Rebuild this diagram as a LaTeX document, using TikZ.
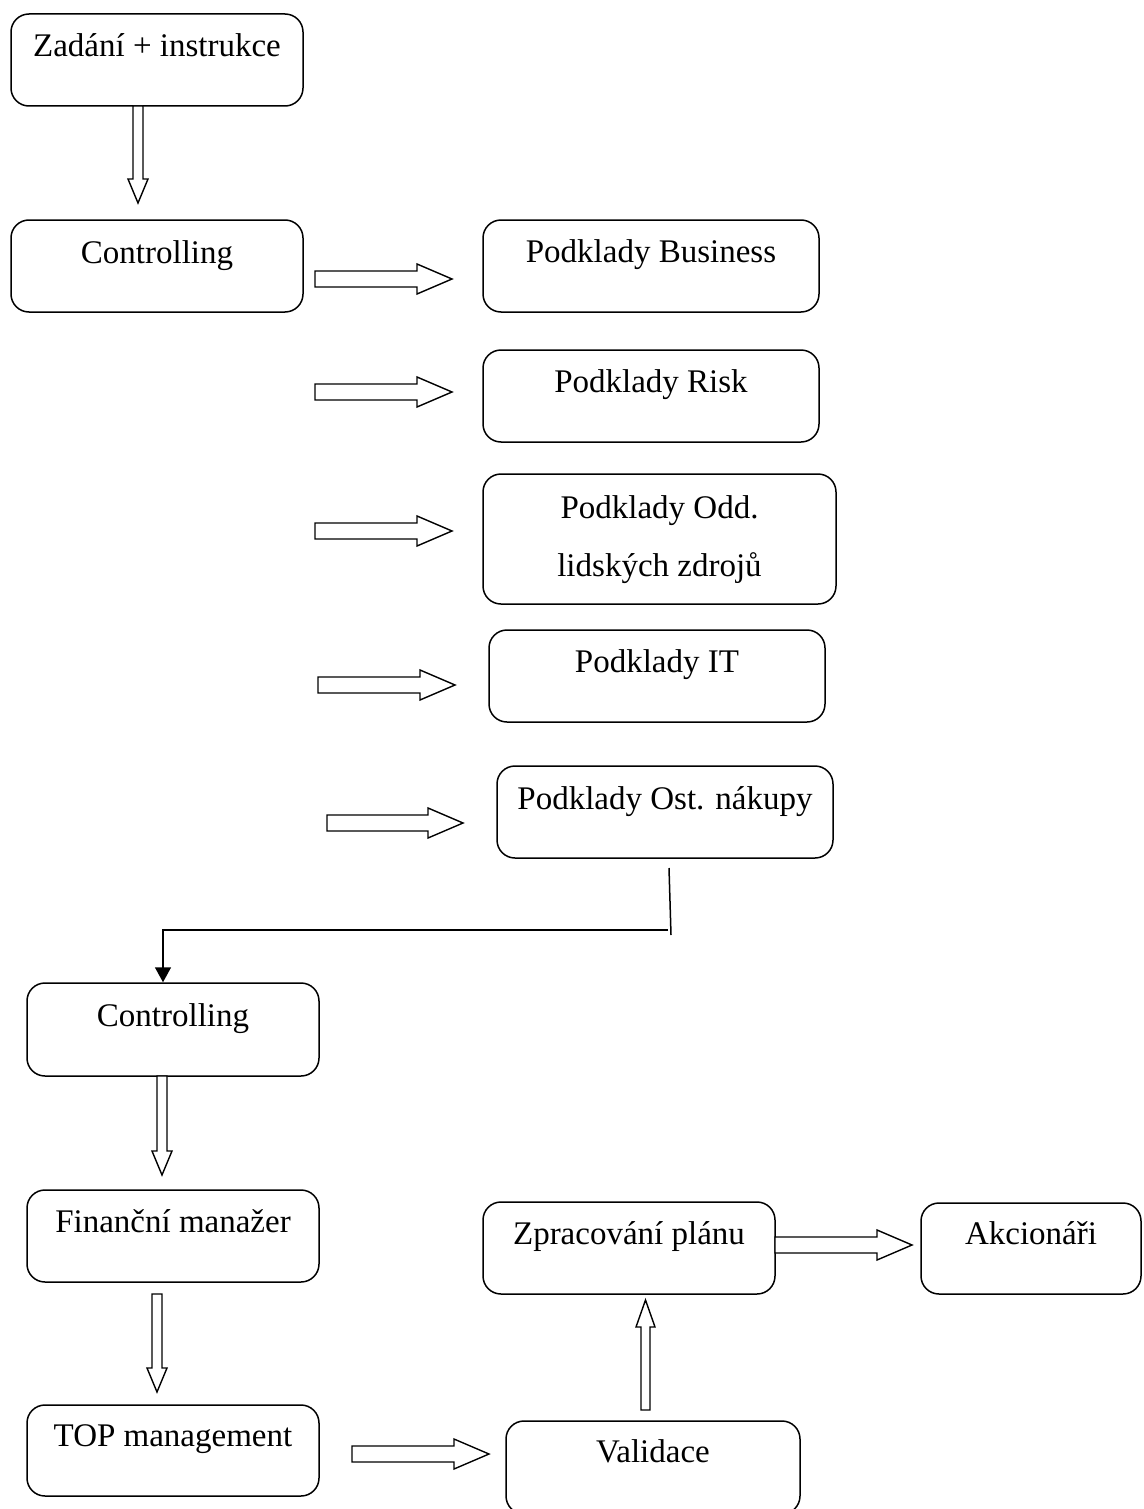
\documentclass[tikz,border=0pt]{standalone}
\usepackage{fontspec}
\setmainfont{Liberation Serif}
\usetikzlibrary{fit,arrows.meta}

% hollow block arrows: horizontal (x from, x tip, y centre) and vertical (x centre, y from, y tip)
\newcommand\harrow[3]{%
  \draw[blockarrow] (#1,#3-8) -- (#2-35,#3-8) -- (#2-35,#3-15) -- (#2,#3)
    -- (#2-35,#3+15) -- (#2-35,#3+8) -- (#1,#3+8) -- cycle;}
\newcommand\varrow[3]{%
  \draw[blockarrow] (#1-5,#2) -- (#1-5,#3-24) -- (#1-10,#3-24) -- (#1,#3)
    -- (#1+10,#3-24) -- (#1+5,#3-24) -- (#1+5,#2) -- cycle;}

\tikzset{
  box/.style={draw, rounded corners=18pt, line width=1.5pt, inner sep=0pt},
  lbl/.style={anchor=base, inner sep=0pt, font=\fontsize{33}{40}\selectfont},
  blockarrow/.style={draw, fill=white, line width=1.4pt, line join=miter},
  link/.style={line width=1.5pt},
}

\begin{document}
\begin{tikzpicture}[x=1pt, y=-1pt]
\useasboundingbox (0,0) rectangle (1143,1509);
\clip (0,0) rectangle (1143,1509);

% boxes
\node[box, fit={(11,14) (303,106)}]    (zad) {};
\node[box, fit={(11,220) (303,312)}]   (ctl) {};
\node[box, fit={(483,220) (819,312)}]  (bus) {};
\node[box, fit={(483,350) (819,442)}]  (risk) {};
\node[box, fit={(483,474) (836,604)}]  (odd) {};
\node[box, fit={(489,630) (825,722)}]  (it) {};
\node[box, fit={(497,766) (833,858)}]  (ost) {};
\node[box, fit={(27,983) (319,1076)}]  (ctlb) {};
\node[box, fit={(27,1190) (319,1282)}] (fin) {};
\node[box, fit={(27,1405) (319,1496)}] (top) {};
\node[box, fit={(483,1202) (775,1294)}] (zpr) {};
\node[box, fit={(921,1203) (1141,1294)}] (akc) {};
\node[box, fit={(506,1421) (800,1514)}] (val) {};

% labels
\node[lbl] (tzad) at ([yshift=-43pt]zad.north) {Zadání + instrukce};
\node[lbl] (tctl) at ([yshift=-44pt]ctl.north) {Controlling};
\node[lbl] (tbus) at ([yshift=-43pt]bus.north) {Podklady Business};
\node[lbl] (trisk) at ([yshift=-43pt]risk.north) {Podklady Risk};
\node[lbl] (todd1) at ([yshift=-45pt]odd.north) {Podklady Odd.};
\node[lbl] (todd2) at ([yshift=-103pt]odd.north) {lidských zdrojů};
\node[lbl] (tit) at ([yshift=-43pt]it.north) {Podklady IT};
\node[lbl] (tost) at ([yshift=-44pt]ost.north) {Podklady Ost. nákupy};
\node[lbl] (tctlb) at ([yshift=-44pt]ctlb.north) {Controlling};
\node[lbl] (tfin) at ([yshift=-43pt]fin.north) {Finanční manažer};
\node[lbl] (ttop) at ([yshift=-42pt]top.north) {TOP management};
\node[lbl] (tzpr) at ([yshift=-43pt]zpr.north) {Zpracování plánu};
\node[lbl] (takc) at ([yshift=-42pt]akc.north) {Akcionáři};
\node[lbl] (tval) at ([yshift=-42pt]val.north) {Validace};

% hollow arrows
\varrow{138}{106}{203}
\harrow{315}{452}{279}
\harrow{315}{452}{392}
\harrow{315}{452}{531}
\harrow{318}{455}{685}
\harrow{327}{463}{823}
\varrow{162}{1076}{1175}
\varrow{157}{1294}{1392}
\harrow{352}{489}{1454}
\harrow{775}{912}{1245}
\draw[blockarrow] (641,1410) -- (641,1327) -- (636,1327) -- (645.5,1300)
  -- (655,1327) -- (650,1327) -- (650,1410) -- cycle;

% return line from the purchasing box back to controlling
\coordinate (j1) at (669,868);
\coordinate (j2) at (671,935);
\coordinate (j3) at (668,930);
\draw[link] (j1) -- (j2);
\draw[link, -{Triangle[length=15pt,width=16pt]}] (j3) -| ([xshift=-10pt]ctlb.north);
\end{tikzpicture}
\end{document}
